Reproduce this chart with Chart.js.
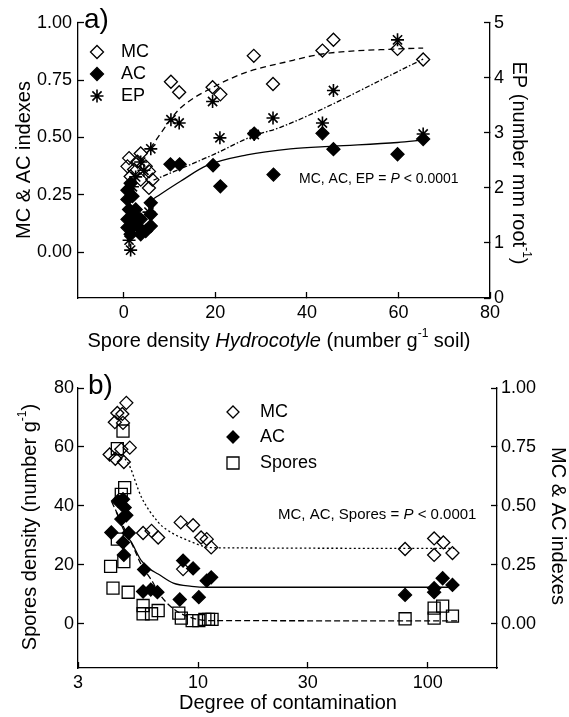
<!DOCTYPE html>
<html lang="en">
<head>
<meta charset="UTF-8">
<title>Colonisation indexes vs spore density</title>
<script src="https://cdn.jsdelivr.net/npm/chart.js"></script>
<style>
  body { margin: 0; background: #fff; }
  .wrap { position: relative; width: 569px; height: 717px; }
  #chartA { position: absolute; left: 0; top: 0; }
  #chartB { position: absolute; left: 0; top: 360px; }
</style>
</head>
<body>
<div class="wrap">
  <canvas id="chartA" width="569" height="360"></canvas>
  <canvas id="chartB" width="569" height="357"></canvas>
</div>
<script>
// ---- panel a) : spore density Hydrocotyle vs MC / AC (left) and EP (right)
const aMcX = [1.16, 3.7, 2.25, 4.8, 5.5, 6.25, 5.5, 3.7, 1.5, 3.0, 0.8, 10.3, 12.1, 19.4, 21.1, 28.4, 32.6, 43.4, 45.8, 59.8, 65.4];
const aMcY = [0.41, 0.43, 0.36, 0.374, 0.352, 0.316, 0.28, 0.316, 0.33, 0.395, 0.374, 0.743, 0.697, 0.719, 0.688, 0.856, 0.733, 0.879, 0.926, 0.886, 0.840];

const aAcX = [0.8, 1.5, 0.8, 1.9, 1.16, 2.25, 0.8, 1.9, 0.8, 3.0, 3.7, 4.8, 5.9, 5.9, 5.9, 1.5, 2.6, 3.7, 10.2, 12.2, 19.5, 21.1, 28.5, 32.7, 43.4, 45.8, 59.8, 65.4];
const aAcY = [0.23, 0.30, 0.143, 0.244, 0.186, 0.165, 0.107, 0.121, 0.27, 0.114, 0.078, 0.092, 0.114, 0.165, 0.215, 0.078, 0.186, 0.143, 0.383, 0.383, 0.379, 0.287, 0.517, 0.338, 0.518, 0.449, 0.427, 0.493];

const aEpX = [5.9, 1.5, 1.16, 3.7, 4.4, 1.9, 5.5, 2.6, 1.5, 10.3, 12.1, 19.4, 21.0, 28.5, 32.6, 43.4, 45.8, 59.8, 65.4];
const aEpY = [2.71, 0.87, 1.05, 2.47, 2.32, 2.02, 1.56, 2.2, 1.29, 3.24, 3.18, 3.57, 2.91, 2.97, 3.27, 3.18, 3.77, 4.69, 2.98];

// fitted curves
const aFitMcX = [5.8, 10.3, 12.3, 19.6, 26.9, 35.2, 43.4, 59.8, 65.4];
const aFitMcY = [0.453, 0.58, 0.627, 0.72, 0.785, 0.828, 0.864, 0.886, 0.89];
const aFitEpX = [6.5, 19.7, 28.4, 34.2, 65.4];
const aFitEpY = [2.14, 2.61, 2.95, 3.10, 4.34];
const aFitAcX = [6.2, 12.4, 18.2, 26.9, 36.4, 45.8, 59.8, 65.4];
const aFitAcY = [0.229, 0.309, 0.378, 0.424, 0.45, 0.462, 0.478, 0.489];

const aXTicks = [0, 20, 40, 60, 80];
const aIdxTicks = [0, 0.25, 0.5, 0.75, 1];
const aEpTicks = [0, 1, 2, 3, 4, 5];

// ---- panel b) : degree of contamination vs spores (left) and MC / AC (right)
const bMcX = [4.87, 4.45, 4.68, 4.34, 4.71, 4.12, 4.36, 4.75, 5.04, 4.63, 5.76, 6.27, 6.7, 8.4, 9.51, 10.3, 10.9, 11.4, 8.6, 79.6, 106.5, 116.8, 106.5, 128];
const bMcY = [0.937, 0.894, 0.89, 0.855, 0.852, 0.718, 0.70, 0.686, 0.747, 0.74, 0.385, 0.394, 0.366, 0.43, 0.418, 0.366, 0.359, 0.324, 0.232, 0.317, 0.362, 0.345, 0.292, 0.30];

const bAcX = [4.48, 4.71, 4.79, 4.63, 4.87, 4.19, 4.99, 4.71, 4.75, 5.82, 5.76, 6.22, 6.65, 8.32, 8.6, 9.51, 10.07, 10.9, 11.4, 79.6, 106.5, 116, 128, 106.5];
const bAcY = [0.521, 0.528, 0.493, 0.444, 0.46, 0.387, 0.385, 0.345, 0.292, 0.23, 0.137, 0.145, 0.134, 0.103, 0.268, 0.235, 0.113, 0.183, 0.197, 0.1225, 0.151, 0.193, 0.165, 0.134];

const bSporeX = [4.71, 4.45, 4.79, 4.63, 4.45, 4.16, 4.75, 4.26, 4.96, 5.76, 5.76, 6.27, 6.7, 8.24, 8.45, 9.42, 10.07, 10.7, 11.1, 11.5, 79.6, 106.5, 116, 128, 106.5];
const bSporeY = [65.4, 59.4, 46.2, 43.9, 28.7, 19.5, 21.1, 12.1, 10.7, 6.2, 3.4, 3.4, 4.5, 3.6, 1.9, 1.1, 1.1, 1.5, 1.5, 1.5, 1.7, 5.3, 6.0, 2.6, 1.9];

const bFitMcX = [4.8, 5.0, 5.66, 6.7, 7.28, 8.9, 11.6, 130];
const bFitMcY = [0.70, 0.675, 0.538, 0.431, 0.40, 0.356, 0.3225, 0.32];
const bFitAcX = [4.4, 4.8, 5.13, 5.66, 6.16, 6.7, 7.8, 9.36, 11.05, 128];
const bFitAcY = [0.475, 0.3875, 0.345, 0.2675, 0.2325, 0.211, 0.1725, 0.159, 0.155, 0.155];
const bFitSporeX = [4.2, 4.79, 5.2, 5.66, 6.35, 6.7, 7.8, 9.4, 11.05, 135];
const bFitSporeY = [41.5, 32.1, 26.4, 20.0, 14.1, 10.7, 5.1, 2.0, 1.1, 1.0];

const bXTicks = [3, 10, 30, 100];
const bSporeTicks = [0, 20, 40, 60, 80];
const bIdxTicks = [0, 0.25, 0.5, 0.75, 1];

const FONT = '"Liberation Sans", Arial, sans-serif';
const INK = '#000';

function pts(xs, ys) { return xs.map((x, i) => ({ x: x, y: ys[i] })); }

function marks(xs, ys, axis, style, filled, r, lw) {
  return {
    data: pts(xs, ys), yAxisID: axis, pointStyle: style, pointRadius: r, pointHoverRadius: r,
    borderColor: INK, backgroundColor: filled ? INK : 'rgba(0,0,0,0)', borderWidth: lw || 1.3
  };
}

function fit(xs, ys, axis, dash) {
  return {
    data: pts(xs, ys), yAxisID: axis, showLine: true, pointRadius: 0, pointHoverRadius: 0,
    borderColor: INK, borderWidth: 1.3, borderDash: dash, cubicInterpolationMode: 'monotone', fill: false
  };
}

function axis(pos, min, max, tickVals, size, pad, fmt, type) {
  return {
    type: type || 'linear', position: pos, min: min, max: max,
    afterBuildTicks: s => { s.ticks = tickVals.map(v => ({ value: v })); },
    afterFit: s => { if (pos === 'bottom') s.height = size; else s.width = size; },
    grid: { drawOnChartArea: false, tickLength: -6, tickColor: INK, tickWidth: 1.3 },
    border: { display: true, color: INK, width: 1.3 },
    ticks: { color: INK, font: { family: FONT, size: 18 }, padding: pad, autoSkip: false, maxRotation: 0, callback: fmt }
  };
}

// text with italic / superscript parts: [[text, ''|'i'|'s'], ...]
function drawText(ctx, parts, x, y, size, align, rot) {
  const fontOf = k => (k === 'i' ? 'italic ' : '') + (k === 's' ? Math.round(size * 0.62) : size) + 'px ' + FONT;
  ctx.save();
  ctx.translate(x, y);
  ctx.rotate(rot || 0);
  ctx.fillStyle = INK;
  ctx.textAlign = 'left';
  ctx.textBaseline = 'middle';
  let w = 0;
  parts.forEach(p => { ctx.font = fontOf(p[1]); w += ctx.measureText(p[0]).width; });
  let cx = align === 'center' ? -w / 2 : 0;
  parts.forEach(p => {
    ctx.font = fontOf(p[1]);
    ctx.fillText(p[0], cx, p[1] === 's' ? -size * 0.35 : 0);
    cx += ctx.measureText(p[0]).width;
  });
  ctx.restore();
}

function drawMark(ctx, style, x, y, r, filled, lw) {
  ctx.save();
  ctx.strokeStyle = INK;
  ctx.fillStyle = INK;
  ctx.lineWidth = lw || 1.3;
  ctx.beginPath();
  if (style === 'rectRot') {
    ctx.moveTo(x - r, y); ctx.lineTo(x, y - r); ctx.lineTo(x + r, y); ctx.lineTo(x, y + r); ctx.closePath();
  } else if (style === 'rect') {
    const h = r * Math.SQRT1_2;
    ctx.rect(x - h, y - h, 2 * h, 2 * h);
  } else {
    for (let k = 0; k < 4; k++) {
      const a = k * Math.PI / 4;
      ctx.moveTo(x - r * Math.cos(a), y - r * Math.sin(a));
      ctx.lineTo(x + r * Math.cos(a), y + r * Math.sin(a));
    }
  }
  if (filled) ctx.fill();
  ctx.stroke();
  ctx.restore();
}

const panelA = {
  id: 'panelA',
  afterDraw(chart) {
    const ctx = chart.ctx;
    drawText(ctx, [['a)', '']], 84, 20, 28, 'left');
    drawMark(ctx, 'rectRot', 97, 52, 6.5, false);
    drawMark(ctx, 'rectRot', 97, 74, 6.5, true);
    drawMark(ctx, 'star', 97, 96, 6.5, false, 1.6);
    drawText(ctx, [['MC', '']], 121, 52, 18, 'left');
    drawText(ctx, [['AC', '']], 121, 74, 18, 'left');
    drawText(ctx, [['EP', '']], 121, 96, 18, 'left');
    drawText(ctx, [['MC, AC, EP = ', ''], ['P', 'i'], [' < 0.0001', '']], 299, 179, 14, 'left');
    drawText(ctx, [['MC & AC indexes', '']], 24, 160, 20, 'center', -Math.PI / 2);
    drawText(ctx, [['EP (number mm root', ''], ['-1', 's'], [')', '']], 519, 163, 20, 'center', Math.PI / 2);
    drawText(ctx, [['Spore density ', ''], ['Hydrocotyle', 'i'], [' (number g', ''], ['-1', 's'], [' soil)', '']], 279, 341, 20, 'center');
  }
};

const panelB = {
  id: 'panelB',
  afterDraw(chart) {
    const ctx = chart.ctx;
    drawText(ctx, [['b)', '']], 88, 26, 28, 'left');
    drawMark(ctx, 'rectRot', 233, 52, 6, false);
    drawMark(ctx, 'rectRot', 233, 77, 6, true);
    drawMark(ctx, 'rect', 233, 103, 8.5, false);
    drawText(ctx, [['MC', '']], 260, 52, 18, 'left');
    drawText(ctx, [['AC', '']], 260, 77, 18, 'left');
    drawText(ctx, [['Spores', '']], 260, 103, 18, 'left');
    drawText(ctx, [['MC, AC, Spores = ', ''], ['P', 'i'], [' < 0.0001', '']], 278, 155, 15, 'left');
    drawText(ctx, [['Spores density (number g', ''], ['-1', 's'], [')', '']], 30, 167, 20, 'center', -Math.PI / 2);
    drawText(ctx, [['MC & AC indexes', '']], 558, 166, 20, 'center', Math.PI / 2);
    drawText(ctx, [['Degree of contamination', '']], 288, 343, 20, 'center');
  }
};

const common = {
  responsive: false,
  animation: false,
  events: [],
  plugins: { legend: { display: false }, tooltip: { enabled: false } }
};

new Chart(document.getElementById('chartA'), {
  type: 'scatter',
  data: {
    datasets: [
      marks(aMcX, aMcY, 'y', 'rectRot', false, 6.5),
      marks(aAcX, aAcY, 'y', 'rectRot', true, 6.5),
      marks(aEpX, aEpY, 'y2', 'star', false, 6.5, 1.6),
      fit(aFitMcX, aFitMcY, 'y', [6, 4]),
      fit(aFitEpX, aFitEpY, 'y2', [5, 2, 1.5, 2]),
      fit(aFitAcX, aFitAcY, 'y', [])
    ]
  },
  options: Object.assign({}, common, {
    layout: { padding: { top: 22, left: 0, right: 0, bottom: 0 } },
    scales: {
      x: axis('bottom', -10, 80, aXTicks, 62, 10, v => String(v)),
      y: axis('left', -0.2, 1, aIdxTicks, 78, 12, v => v.toFixed(2)),
      y2: axis('right', 0, 5, aEpTicks, 79, 10, v => String(v))
    }
  }),
  plugins: [panelA]
});

new Chart(document.getElementById('chartB'), {
  type: 'scatter',
  data: {
    datasets: [
      marks(bMcX, bMcY, 'y2', 'rectRot', false, 6.5),
      marks(bAcX, bAcY, 'y2', 'rectRot', true, 6.5),
      marks(bSporeX, bSporeY, 'y', 'rect', false, 8.5),
      fit(bFitMcX, bFitMcY, 'y2', [2, 2.5]),
      fit(bFitAcX, bFitAcY, 'y2', []),
      fit(bFitSporeX, bFitSporeY, 'y', [6, 3])
    ]
  },
  options: Object.assign({}, common, {
    layout: { padding: { top: 28, left: 0, right: 0, bottom: 0 } },
    scales: {
      x: axis('bottom', 3, 200, bXTicks, 49, 10, v => String(v), 'logarithmic'),
      y: axis('left', -15, 80, bSporeTicks, 78, 10, v => String(v)),
      y2: axis('right', -0.1875, 1, bIdxTicks, 72, 10, v => v.toFixed(2))
    }
  }),
  plugins: [panelB]
});
</script>
</body>
</html>
